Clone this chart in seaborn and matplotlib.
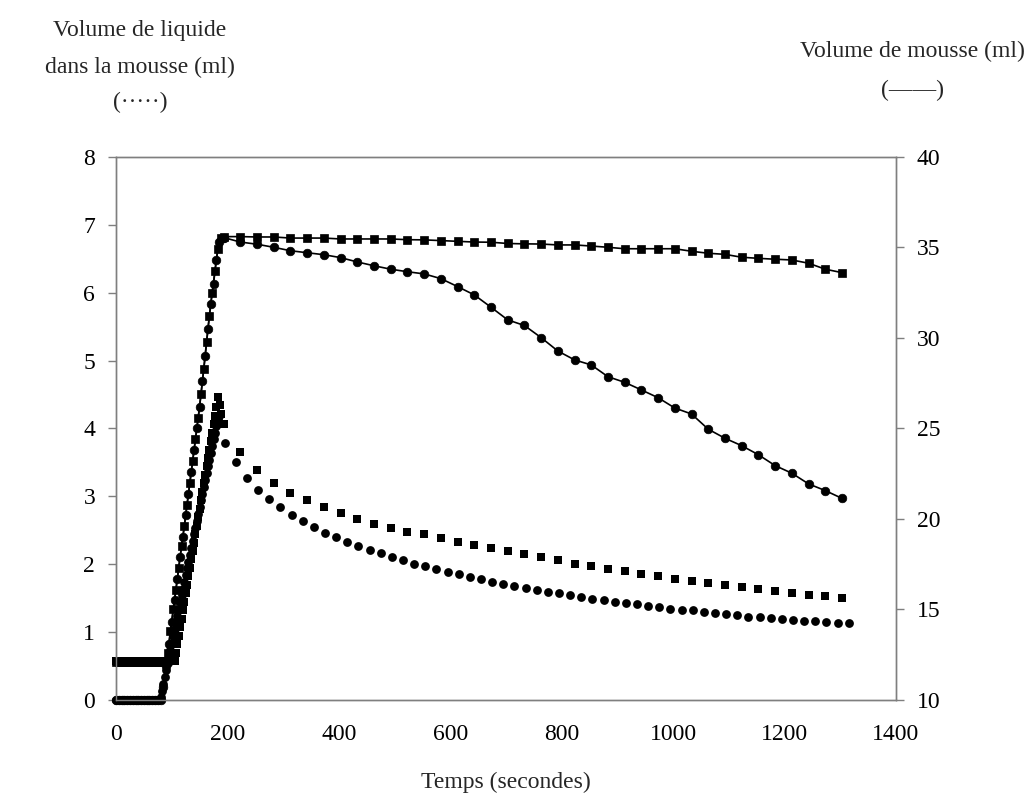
import matplotlib
matplotlib.use("Agg")
import matplotlib.pyplot as plt
import seaborn as sns

# ---------------- data ----------------
# liquid in the foam (left axis, markers only)
liq_ci_flat_t = [0, 5, 10, 15, 20, 25, 30, 35, 40, 45, 50, 55, 60, 65, 70, 75]
liq_ci_flat = [0.0, 0.0, 0.0, 0.0, 0.0, 0.0, 0.0, 0.0, 0.0, 0.0, 0.0, 0.0, 0.0, 0.0, 0.0, 0.0]
liq_ci_rise_t = [80, 82.5, 85, 87.5, 90, 92.5, 95, 97.5, 100, 102.5, 105, 107.5, 110, 112.5,
                 115, 117.5, 120, 122.5, 125, 127.5, 130, 132.5, 135, 137.5, 140, 142.5, 145,
                 147.5, 150, 152.5, 155, 157.5, 160, 162.5, 165, 167.5, 170, 172.5, 175, 177.5,
                 180, 182.5, 185]
liq_ci_rise = [0.04, 0.14, 0.24, 0.34, 0.44, 0.54, 0.64, 0.74, 0.84, 0.94, 1.04, 1.14, 1.24, 1.34,
               1.44, 1.54, 1.64, 1.74, 1.84, 1.94, 2.04, 2.14, 2.24, 2.34, 2.44, 2.54, 2.64,
               2.74, 2.84, 2.94, 3.04, 3.14, 3.24, 3.34, 3.44, 3.54, 3.64, 3.74, 3.84, 3.94,
               4.04, 4.12, 4.18]
liq_ci_post_t = [195, 215, 235, 255, 275, 295, 315, 335, 355, 375, 395, 415, 435, 455, 475, 495,
                 515, 535, 555, 575, 595, 615, 635, 655, 675, 695, 715, 735, 755, 775, 795, 815,
                 835, 855, 875, 895, 915, 935, 955, 975, 995, 1015, 1035, 1055, 1075, 1095, 1115,
                 1135, 1155, 1175, 1195, 1215, 1235, 1255, 1275, 1295, 1315]
liq_ci_post = [3.79, 3.50, 3.27, 3.10, 2.96, 2.84, 2.73, 2.64, 2.55, 2.46, 2.40, 2.33, 2.27, 2.21,
               2.16, 2.11, 2.06, 2.01, 1.97, 1.93, 1.88, 1.85, 1.81, 1.78, 1.74, 1.71, 1.68, 1.65,
               1.62, 1.59, 1.57, 1.54, 1.52, 1.49, 1.47, 1.45, 1.43, 1.41, 1.38, 1.37, 1.34, 1.33,
               1.32, 1.30, 1.28, 1.26, 1.25, 1.23, 1.22, 1.21, 1.20, 1.18, 1.17, 1.16, 1.15, 1.14,
               1.13]

liq_sq_flat_t = [0, 5, 10, 15, 20, 25, 30, 35, 40, 45, 50, 55, 60, 65, 70, 75, 80, 85, 90, 95,
                 100, 105]
liq_sq_flat = [0.57, 0.57, 0.57, 0.57, 0.57, 0.57, 0.57, 0.57, 0.57, 0.57, 0.57, 0.57, 0.57,
               0.57, 0.57, 0.57, 0.57, 0.57, 0.57, 0.57, 0.57, 0.57]
liq_sq_rise_t = [107.5, 110, 112.5, 115, 117.5, 120, 122.5, 125, 127.5, 130, 132.5, 135, 137.5,
                 140, 142.5, 145, 147.5, 150, 152.5, 155, 157.5, 160, 162.5, 165, 167.5, 170,
                 172.5, 175, 177.5, 180, 183, 186, 189]
liq_sq_rise = [0.69, 0.82, 0.94, 1.07, 1.19, 1.32, 1.44, 1.57, 1.69, 1.82, 1.94, 2.07, 2.19,
               2.32, 2.44, 2.57, 2.69, 2.82, 2.94, 3.07, 3.19, 3.32, 3.44, 3.57, 3.69, 3.82,
               3.94, 4.07, 4.19, 4.32, 4.47, 4.35, 4.22]

# post-peak readings every 30 s (shared by the three 30 s series)
t30 = [193, 223, 253, 283, 313, 343, 373, 403, 433, 463, 493, 523, 553, 583, 613, 643, 673,
       703, 733, 763, 793, 823, 853, 883, 913, 943, 973, 1003, 1033, 1063, 1093, 1123, 1153,
       1183, 1213, 1243, 1273, 1303]
liq_sq_post = [4.07, 3.65, 3.39, 3.20, 3.05, 2.94, 2.84, 2.75, 2.67, 2.60, 2.54, 2.48, 2.44,
               2.38, 2.33, 2.28, 2.24, 2.19, 2.15, 2.10, 2.06, 2.01, 1.97, 1.93, 1.90, 1.86,
               1.82, 1.79, 1.76, 1.72, 1.70, 1.66, 1.64, 1.61, 1.58, 1.55, 1.53, 1.50]

# foam volume (right axis, markers + line)
foam_ci_rise_t = [0, 5, 10, 15, 20, 25, 30, 35, 40, 45, 50, 55, 60, 65, 70, 75, 80, 85, 90, 95,
                  100, 105, 110, 115, 120, 125, 130, 135, 140, 145, 150, 155, 160, 165, 170,
                  175, 180, 185]
foam_ci_rise = [10.0, 10.0, 10.0, 10.0, 10.0, 10.0, 10.0, 10.0, 10.0, 10.0, 10.0, 10.0, 10.0,
                10.0, 10.0, 10.0, 10.0, 10.7, 11.9, 13.1, 14.3, 15.5, 16.7, 17.9, 19.0, 20.2,
                21.4, 22.6, 23.8, 25.0, 26.2, 27.6, 29.0, 30.5, 31.9, 33.0, 34.3, 35.3]
foam_ci_post = [35.55, 35.30, 35.18, 35.01, 34.82, 34.71, 34.60, 34.44, 34.20, 33.99, 33.80,
                33.66, 33.54, 33.28, 32.84, 32.38, 31.70, 31.00, 30.69, 30.02, 29.28, 28.79,
                28.51, 27.86, 27.55, 27.13, 26.70, 26.13, 25.80, 24.96, 24.46, 24.05, 23.55,
                22.95, 22.53, 21.94, 21.57, 21.14]

foam_sq_rise_t = [0, 5, 10, 15, 20, 25, 30, 35, 40, 45, 50, 55, 60, 65, 70, 75, 80, 85, 90,
                  92.5, 97.5, 102.5, 107.5, 112.5, 117.5, 122.5, 127.5, 132.5, 137.5, 142.5,
                  147.5, 152.5, 157.5, 162.5, 167.5, 172.5, 177.5, 182.5, 187.5]
foam_sq_rise = [12.1, 12.1, 12.1, 12.1, 12.1, 12.1, 12.1, 12.1, 12.1, 12.1, 12.1, 12.1, 12.1,
                12.1, 12.1, 12.1, 12.1, 12.1, 12.1, 12.6, 13.8, 15.0, 16.1, 17.3, 18.5, 19.6,
                20.8, 22.0, 23.2, 24.4, 25.6, 26.9, 28.3, 29.8, 31.2, 32.5, 33.7, 34.9, 35.5]
foam_sq_post = [35.60, 35.60, 35.58, 35.58, 35.52, 35.52, 35.52, 35.47, 35.47, 35.47, 35.47,
                35.43, 35.42, 35.38, 35.34, 35.30, 35.29, 35.22, 35.20, 35.19, 35.14, 35.14,
                35.08, 35.01, 34.93, 34.93, 34.93, 34.93, 34.79, 34.68, 34.62, 34.46, 34.40,
                34.35, 34.31, 34.13, 33.80, 33.61]

x_ticks = [0, 200, 400, 600, 800, 1000, 1200, 1400]
left_ticks = [0, 1, 2, 3, 4, 5, 6, 7, 8]
right_ticks = [10, 15, 20, 25, 30, 35, 40]

liq_ci_t = liq_ci_flat_t + liq_ci_rise_t + liq_ci_post_t
liq_ci = liq_ci_flat + liq_ci_rise + liq_ci_post
liq_sq_t = liq_sq_flat_t + liq_sq_rise_t + t30
liq_sq = liq_sq_flat + liq_sq_rise + liq_sq_post
foam_ci_t = foam_ci_rise_t + t30
foam_ci = foam_ci_rise + foam_ci_post
foam_sq_t = foam_sq_rise_t + t30
foam_sq = foam_sq_rise + foam_sq_post

# ---------------- plot ----------------
sns.set_style("white")
plt.rcParams['font.family'] = ['Liberation Serif', 'DejaVu Serif']
plt.rcParams['font.size'] = 17

fig = plt.figure(figsize=(10.26, 7.98), dpi=100)
ax = fig.add_axes([0.1131, 0.1228, 0.7602, 0.6805])
ax2 = ax.twinx()

sns.scatterplot(x=liq_sq_t, y=liq_sq, marker='s', s=30, color='black', linewidth=0,
                ax=ax, clip_on=False)
sns.scatterplot(x=liq_ci_t, y=liq_ci, marker='o', s=40, color='black', linewidth=0,
                ax=ax, clip_on=False)
sns.lineplot(x=foam_sq_t, y=foam_sq, marker='s', markersize=5.5, color='black',
             linewidth=1.2, markeredgecolor='black', markeredgewidth=0.5,
             estimator=None, sort=False, ax=ax2, clip_on=False)
sns.lineplot(x=foam_ci_t, y=foam_ci, marker='o', markersize=6.2, color='black',
             linewidth=1.2, markeredgecolor='black', markeredgewidth=0.5,
             estimator=None, sort=False, ax=ax2, clip_on=False)

ax.set_xlim(0, 1400)
ax.set_ylim(0, 8)
ax2.set_ylim(10, 40)
ax.set_xticks(x_ticks)
ax.set_yticks(left_ticks)
ax2.set_yticks(right_ticks)
ax.set_xlabel('')
ax.set_ylabel('')
ax2.set_ylabel('')

for a in (ax, ax2):
    for sp in a.spines.values():
        sp.set_color('#7f7f7f')
        sp.set_linewidth(1.0)
    a.tick_params(direction='out', length=6, width=1, color='#7f7f7f',
                  labelsize=17, labelcolor='black', pad=9)
ax.tick_params(axis='x', pad=11)

fig.text(0.1365, 0.962, 'Volume de liquide', ha='center', va='center', fontsize=17)
fig.text(0.1365, 0.916, 'dans la mousse (ml)', ha='center', va='center', fontsize=17)
fig.text(0.1365, 0.871, '(\u00b7\u00b7\u00b7\u00b7\u00b7)', ha='center', va='center', fontsize=17)
fig.text(0.889, 0.935, 'Volume de mousse (ml)', ha='center', va='center', fontsize=17)
fig.text(0.889, 0.887, '(\u2014\u2014)', ha='center', va='center', fontsize=17)
fig.text(0.493, 0.02, 'Temps (secondes)', ha='center', va='center', fontsize=17)

fig.savefig('out.png', dpi=100)
